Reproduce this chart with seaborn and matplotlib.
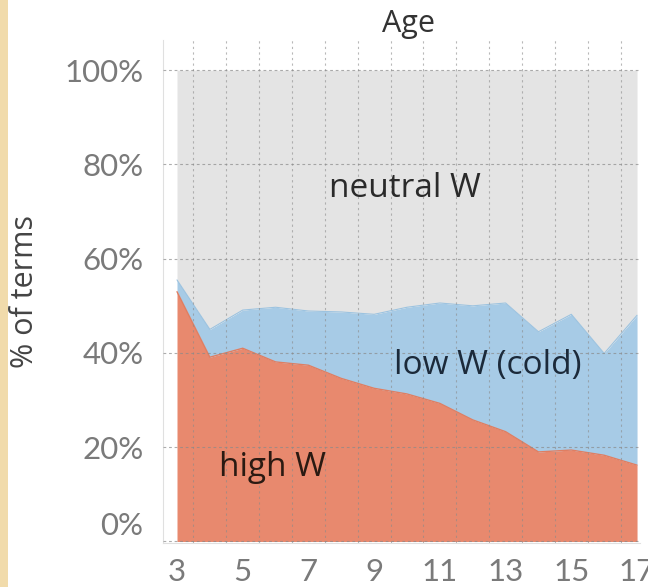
import matplotlib
matplotlib.use("Agg")
import matplotlib.pyplot as plt
import matplotlib.transforms as mtransforms
import seaborn as sns
import numpy as np
import pandas as pd
from matplotlib.patches import Rectangle

# ---- data ----
ages = [3, 4, 5, 6, 7, 8, 9, 10, 11, 12, 13, 14, 15, 16, 17]
high_w = [53.0, 39.1, 41.0, 38.1, 37.4, 34.6, 32.5, 31.3, 29.3, 25.8, 23.3, 19.0, 19.4, 18.3, 16.2]
low_w = [2.5, 5.9, 8.1, 11.6, 11.5, 14.1, 15.7, 18.4, 21.3, 24.2, 27.3, 25.5, 28.8, 21.6, 31.8]
y_ticks = [0, 20, 40, 60, 80, 100]
x_ticks = [3, 5, 7, 9, 11, 13, 15, 17]

df = pd.DataFrame({"age": ages, "high": high_w, "low": low_w})
df["neutral"] = 100 - df["high"] - df["low"]
df["top_high"] = df["high"]
df["top_low"] = df["high"] + df["low"]

sns.set_theme(style="white")
plt.rcParams["font.family"] = ["Lato", "DejaVu Sans"]

C_HIGH = "#e8896e"
C_LOW = "#a7cbe6"
C_NEU = "#e4e4e4"
LABEL_FONT = ["Open Sans", "DejaVu Sans"]

fig = plt.figure(figsize=(6.48, 5.87), dpi=100)
ax = fig.add_axes([163 / 648, 1 - 543 / 587, (640 - 163) / 648, (543 - 40) / 587])

ax.stackplot(df["age"], df["high"], df["low"], df["neutral"],
             colors=[C_HIGH, C_LOW, C_NEU], linewidth=0, zorder=1)
sns.lineplot(data=df, x="age", y="top_high", ax=ax, color="#df7e62", linewidth=1.0, zorder=2)
sns.lineplot(data=df, x="age", y="top_low", ax=ax, color="#9cc3e0", linewidth=0.8, zorder=2)

ax.set_xlim(2.574, 17.09)
ax.set_ylim(-0.32, 106.4)

# grid on top of areas
for y in y_ticks:
    ax.axhline(y, color="#8a8a8a", lw=0.8, ls=(0, (2.5, 2.5)), alpha=0.7, zorder=3)
for x in np.arange(3.5, 17, 1.0):
    ax.axvline(x, color="#8a8a8a", lw=0.8, ls=(0, (2, 3)), alpha=0.6, zorder=3)

ax.set_yticks(y_ticks)
ax.set_yticklabels([f"{v}%" for v in y_ticks])
ax.set_xticks(x_ticks)
ax.set_xticklabels([str(v) for v in x_ticks])
ax.tick_params(axis="y", length=9, width=0.8, color="#c8c8c8", pad=5,
               labelsize=22.5, labelcolor="#7a7a7a")
ax.tick_params(axis="x", length=0, pad=11, labelsize=22.5, labelcolor="#7a7a7a")
# Bottom "0%" label sits raised above the baseline in the reference
lbl0 = ax.get_yticklabels()[0]
lbl0.set_transform(lbl0.get_transform() +
                   mtransforms.ScaledTranslation(0, 18 / 100, fig.dpi_scale_trans))
ax.set_xlabel("")
ax.set_ylabel("")
fig.text(25 / 648, 1 - 292 / 587, "% of terms", rotation=90, ha="center", va="center",
         fontsize=22, color="#444444", family=LABEL_FONT)

for s in ["top", "right"]:
    ax.spines[s].set_visible(False)
for s in ["left", "bottom"]:
    ax.spines[s].set_color("#e0e0e0")
    ax.spines[s].set_linewidth(0.8)

fig.text(408 / 648, 1 - 24 / 587, "Age", ha="center", va="center",
         fontsize=22, color="#333333", family=LABEL_FONT)

ax.text(9.95, 74.8, "neutral W", ha="center", va="center", fontsize=24,
        color="#2a2a2a", family=LABEL_FONT, zorder=4)
ax.text(12.46, 37.4, "low W (cold)", ha="center", va="center", fontsize=24,
        color="#1c2a3a", family=LABEL_FONT, zorder=4)
ax.text(5.92, 15.8, "high W", ha="center", va="center", fontsize=24,
        color="#2a1a12", family=LABEL_FONT, zorder=4)

# decorative left strip
fig.patches.append(Rectangle((0, 0), 8 / 648, 1, transform=fig.transFigure,
                             facecolor="#f1dbab", edgecolor="none"))

fig.savefig("out.png", dpi=100)
